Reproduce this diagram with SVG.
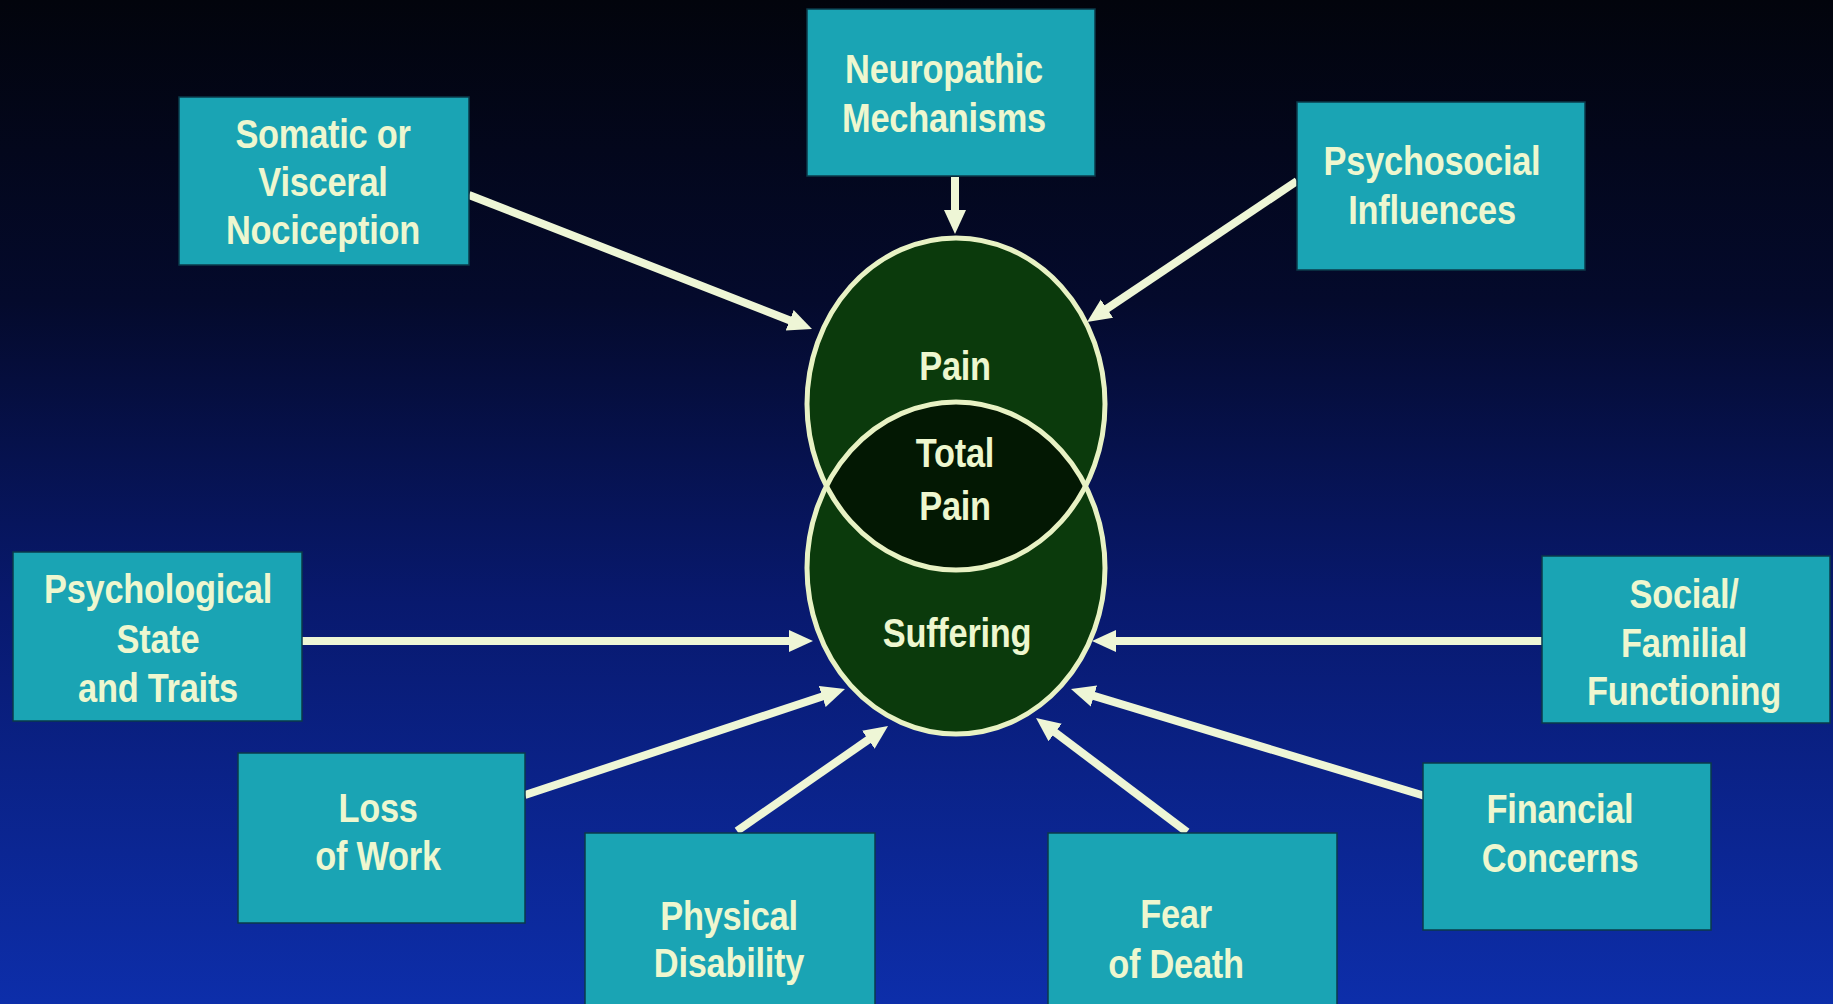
<svg xmlns="http://www.w3.org/2000/svg" width="1833" height="1004" viewBox="0 0 1833 1004">
<defs>
<linearGradient id="bg" x1="0" y1="0" x2="0" y2="1">
<stop offset="0" stop-color="#02040c"/>
<stop offset="0.3" stop-color="#040a2c"/>
<stop offset="0.6" stop-color="#08196e"/>
<stop offset="1" stop-color="#0d2eaa"/>
</linearGradient>
<clipPath id="topClip"><ellipse cx="956" cy="404" rx="149" ry="166"/></clipPath>
<marker id="ah" markerUnits="userSpaceOnUse" markerWidth="24" markerHeight="24" viewBox="0 0 24 24" refX="8" refY="12" orient="auto">
<path d="M0,1 L24,12 L0,23 z" fill="#eef6d6"/>
</marker>
<style>
.box{fill:#1aa4b4;stroke:#0b3a4a;stroke-width:1.5}
.t{font-family:"Liberation Sans",Arial,sans-serif;font-weight:bold;font-size:40px;fill:#eef7cf;text-anchor:middle;letter-spacing:-0.3px}
.c{fill:none;stroke:#eef6d6;stroke-width:8;marker-end:url(#ah)}
.ring{fill:none;stroke:#e8f2c4;stroke-width:5}
</style>
</defs>
<rect width="1833" height="1004" fill="url(#bg)"/>

<g id="connectors">
<path class="c" d="M469,195 L797.1,323.2"/>
<path class="c" d="M955,177 L955,218"/>
<path class="c" d="M1297,181 L1100.3,313.1"/>
<path class="c" d="M302,641 L797,641"/>
<path class="c" d="M1548,641 L1108,641"/>
<path class="c" d="M525,795 L829.8,694"/>
<path class="c" d="M737,831 L874.9,735.1"/>
<path class="c" d="M1187,832 L1048.8,727.6"/>
<path class="c" d="M1425,796 L1086.3,693.6"/>
</g>

<g id="pain-circles">
<ellipse cx="956" cy="404" rx="149" ry="166" fill="#0b3a0c"/>
<ellipse cx="956" cy="568" rx="149" ry="166" fill="#0b3a0c"/>
<ellipse cx="956" cy="568" rx="149" ry="166" fill="#031803" clip-path="url(#topClip)"/>
<ellipse class="ring" cx="956" cy="404" rx="149" ry="166"/>
<ellipse class="ring" cx="956" cy="568" rx="149" ry="166"/>
<text class="t" transform="translate(955 380) scale(0.86 1)">Pain</text>
<text class="t" transform="translate(955 467) scale(0.86 1)">Total</text>
<text class="t" transform="translate(955 520) scale(0.86 1)">Pain</text>
<text class="t" transform="translate(957 647) scale(0.86 1)">Suffering</text>
</g>

<g id="somatic">
<rect class="box" x="179" y="97" width="290" height="168"/>
<text class="t" transform="translate(323 148) scale(0.86 1)">Somatic or</text>
<text class="t" transform="translate(323 196) scale(0.86 1)">Visceral</text>
<text class="t" transform="translate(323 244) scale(0.86 1)">Nociception</text>
</g>

<g id="neuropathic">
<rect class="box" x="807" y="9" width="288" height="167"/>
<text class="t" transform="translate(944 83) scale(0.86 1)">Neuropathic</text>
<text class="t" transform="translate(944 132) scale(0.86 1)">Mechanisms</text>
</g>

<g id="psychosocial">
<rect class="box" x="1297" y="102" width="288" height="168"/>
<text class="t" transform="translate(1432 175) scale(0.86 1)">Psychosocial</text>
<text class="t" transform="translate(1432 224) scale(0.86 1)">Influences</text>
</g>

<g id="psychological">
<rect class="box" x="13" y="552" width="289" height="169"/>
<text class="t" transform="translate(158 603) scale(0.86 1)">Psychological</text>
<text class="t" transform="translate(158 653) scale(0.86 1)">State</text>
<text class="t" transform="translate(158 702) scale(0.86 1)">and Traits</text>
</g>

<g id="social">
<rect class="box" x="1542" y="556" width="288" height="167"/>
<text class="t" transform="translate(1684 608) scale(0.86 1)">Social/</text>
<text class="t" transform="translate(1684 657) scale(0.86 1)">Familial</text>
<text class="t" transform="translate(1684 705) scale(0.86 1)">Functioning</text>
</g>

<g id="loss-of-work">
<rect class="box" x="238" y="753" width="287" height="170"/>
<text class="t" transform="translate(378 822) scale(0.86 1)">Loss</text>
<text class="t" transform="translate(378 870) scale(0.86 1)">of Work</text>
</g>

<g id="physical-disability">
<rect class="box" x="585" y="833" width="290" height="180"/>
<text class="t" transform="translate(729 930) scale(0.86 1)">Physical</text>
<text class="t" transform="translate(729 977) scale(0.86 1)">Disability</text>
</g>

<g id="fear-of-death">
<rect class="box" x="1048" y="833" width="289" height="180"/>
<text class="t" transform="translate(1176 928) scale(0.86 1)">Fear</text>
<text class="t" transform="translate(1176 978) scale(0.86 1)">of Death</text>
</g>

<g id="financial">
<rect class="box" x="1423" y="763" width="288" height="167"/>
<text class="t" transform="translate(1560 823) scale(0.86 1)">Financial</text>
<text class="t" transform="translate(1560 872) scale(0.86 1)">Concerns</text>
</g>
</svg>
